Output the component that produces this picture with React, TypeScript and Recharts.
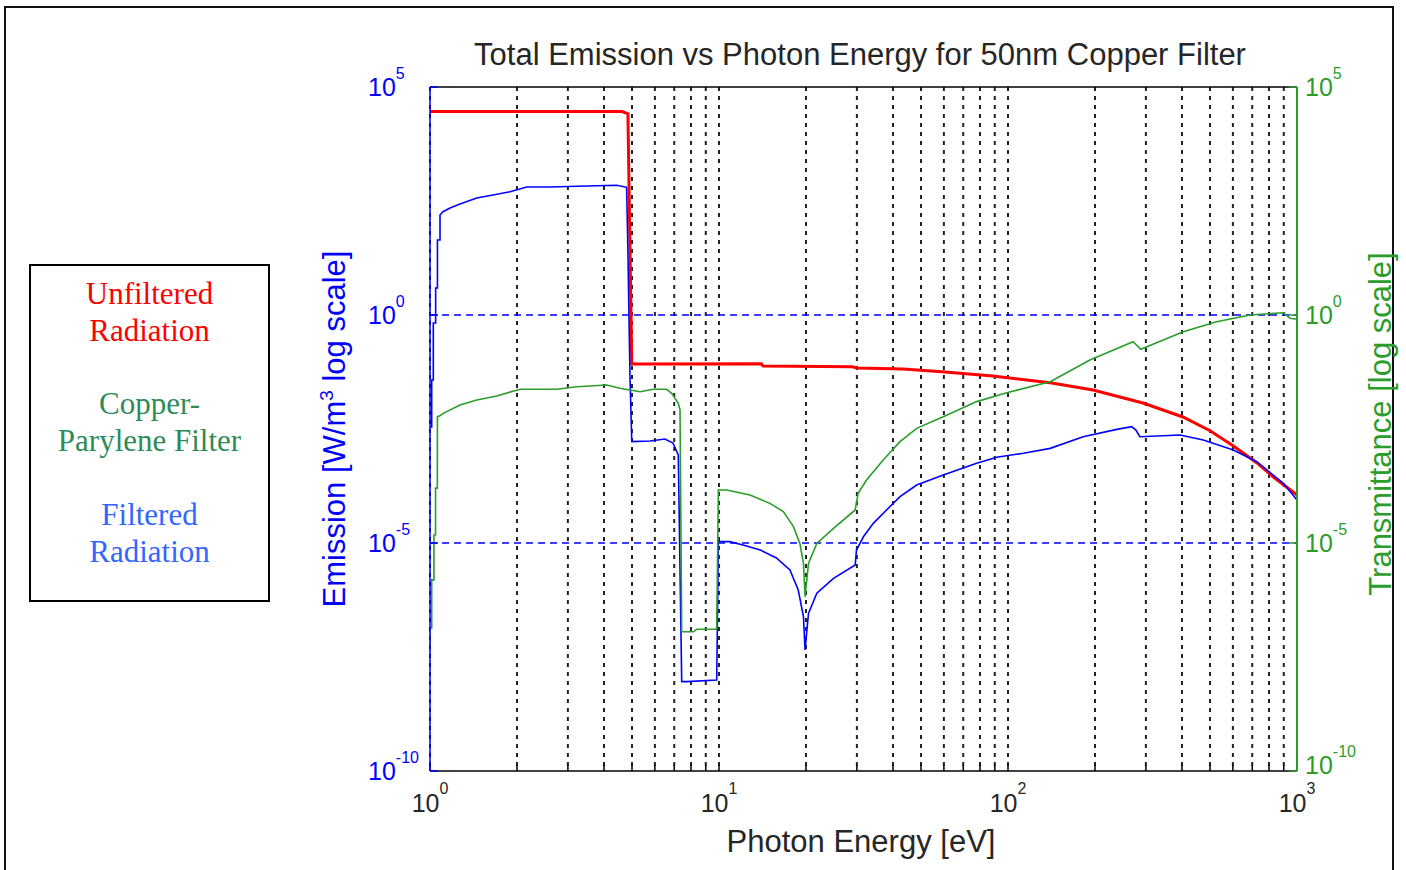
import React from 'react';
import { LineChart, Line, XAxis, YAxis, CartesianGrid, ReferenceLine, Legend } from 'recharts';

// ---------- axis ticks ----------
const xTicks = [1, 2, 3, 4, 5, 6, 7, 8, 9, 10, 20, 30, 40, 50, 60, 70, 80, 90, 100, 200, 300, 400, 500, 600, 700, 800, 900, 1000];
const yTicks = [1e-10, 1e-5, 1, 1e5];
const yGridValues = [1e-5, 1];

// ---------- Unfiltered radiation (red, left axis) ----------
const unfilteredEnergy = [1, 4.62, 4.84, 4.99, 14.0, 14.2, 28.9, 30, 43.3, 59.1, 88.7, 116, 140, 197, 293, 403, 500, 601, 727, 826, 1000];
const unfilteredEmission = [2.9e4, 2.9e4, 2.6e4, 0.084, 0.085, 0.076, 0.073, 0.069, 0.0655, 0.0571, 0.046, 0.0376, 0.0328, 0.0227, 0.01175, 0.0058, 0.0029, 0.00136, 5.7e-4, 2.84e-4, 1.13e-4];

// ---------- Filtered radiation (blue, left axis) ----------
const filteredEnergy = [1.0, 1.0136, 1.0136, 1.0266, 1.0266, 1.046, 1.046, 1.061, 1.061, 1.083, 1.083, 1.109, 1.173, 1.27, 1.451, 1.652, 1.891, 2.161, 2.6, 3.487, 4.426, 4.79, 4.84, 4.92, 4.99, 5.77, 6.5, 6.93, 7.23, 7.33, 7.43, 7.73, 9.82, 9.95, 10.9, 12.1, 13.9, 15.8, 17.6, 18.8, 19.6, 19.85, 20.4, 21.8, 24.9, 29.6, 29.9, 31.6, 34.2, 38.0, 42.3, 48.3, 59.7, 77.9, 91.4, 113, 140, 182, 238, 268, 277, 286, 394, 474, 602, 726, 897, 1000];
const filteredEmission = [3.5e-3, 3.5e-3, 0.0376, 0.0376, 0.668, 0.668, 3.91, 3.91, 44.2, 44.2, 156, 184, 222, 272, 368, 428, 506, 641, 641, 675, 698, 631, 24.4, 0.0444, 1.67e-3, 1.73e-3, 1.91e-3, 1.56e-3, 8.5e-4, 2.6e-6, 9.1e-9, 9.1e-9, 9.9e-9, 1.07e-5, 1.07e-5, 9.0e-6, 7.0e-6, 4.69e-6, 2.56e-6, 9.3e-7, 2.42e-7, 4.5e-8, 2.87e-7, 7.9e-7, 1.68e-6, 3.3e-6, 7.0e-6, 1.37e-5, 2.7e-5, 5.3e-5, 1.04e-4, 1.87e-4, 3.1e-4, 5.6e-4, 7.6e-4, 9.3e-4, 1.19e-3, 2.14e-3, 3.1e-3, 3.56e-3, 3.0e-3, 2.14e-3, 2.33e-3, 1.82e-3, 1.09e-3, 6.07e-4, 2.04e-4, 8.8e-5];

// ---------- Copper-Parylene filter transmittance (green, right axis) ----------
const transEnergy = [1.0, 1.0, 1.0136, 1.0136, 1.032, 1.032, 1.045, 1.045, 1.06, 1.061, 1.083, 1.111, 1.27, 1.451, 1.7, 2.05, 2.74, 3.22, 4.09, 4.54, 5.33, 5.93, 6.59, 6.86, 7.23, 7.33, 7.43, 8.15, 8.37, 9.82, 9.95, 10.63, 12.8, 15.0, 16.7, 18.1, 19.05, 19.6, 19.85, 20.4, 21.8, 24.9, 29.6, 30.3, 32.4, 37.0, 42.3, 48.3, 59.7, 77.9, 99.0, 140, 192, 271, 288, 404, 527, 688, 897, 946, 1000];
const transmittance = [4.1e-8, 1.37e-7, 1.37e-7, 1.55e-6, 1.55e-6, 1.5e-5, 1.5e-5, 1.6e-4, 1.6e-4, 5.9e-3, 6.2e-3, 6.98e-3, 0.0106, 0.0137, 0.0168, 0.0235, 0.0235, 0.0268, 0.0292, 0.0247, 0.0208, 0.0235, 0.0235, 0.0192, 0.0116, 8.3e-3, 1.13e-7, 1.13e-7, 1.28e-7, 1.28e-7, 1.45e-4, 1.45e-4, 1.13e-4, 7.4e-5, 4.9e-5, 2.28e-5, 9.8e-6, 3.58e-6, 6.6e-7, 3.58e-6, 9.8e-6, 2.1e-5, 5.3e-5, 1.23e-4, 2.41e-4, 6.6e-4, 1.67e-3, 3.27e-3, 5.9e-3, 0.0126, 0.0198, 0.0344, 0.103, 0.259, 0.177, 0.43, 0.713, 1.0, 1.12, 0.85, 0.805];

// ---------- legend text ----------
const legendGroups = [
  { lines: ['Unfiltered', 'Radiation'], color: '#ff0000' },
  { lines: ['Copper-', 'Parylene Filter'], color: '#2e8b57' },
  { lines: ['Filtered', 'Radiation'], color: '#3366ff' },
];

const SANS = '"Liberation Sans", Arial, Helvetica, sans-serif';
const SERIF = '"Liberation Serif", "Times New Roman", Times, serif';
const BLUE = '#0000ff';
const GREEN = '#2a9d2a';
const RED = '#ff0000';
const TEXT = '#262626';

const zip = (es: number[], vs: number[]) => es.map((e, i) => ({ e, v: vs[i] }));
const unfilteredData = zip(unfilteredEnergy, unfilteredEmission);
const filteredData = zip(filteredEnergy, filteredEmission);
const transData = zip(transEnergy, transmittance);

const powerOf = (v: number) => Math.round(Math.log10(v));
const isPower = (v: number) => Math.abs(Math.pow(10, powerOf(v)) - v) < 1e-6 * v;

const XTick = (props: any) => {
  const { x, y, payload } = props;
  const v = payload.value;
  if (!isPower(v)) return <g />;
  return (
    <text x={x} y={y + 47} textAnchor="middle" fontFamily={SANS} fontSize={25} fill={TEXT}>
      10<tspan dy={-18} fontSize={16}>{powerOf(v)}</tspan>
    </text>
  );
};

const LeftTick = (props: any) => {
  const { x, y, payload } = props;
  return (
    <text x={x - 70} y={y + 8.5} textAnchor="start" fontFamily={SANS} fontSize={25} fill={BLUE}>
      10<tspan dy={-17} fontSize={16}>{powerOf(payload.value)}</tspan>
    </text>
  );
};

const RightTick = (props: any) => {
  const { x, y, payload } = props;
  const p = powerOf(payload.value);
  // the bottom label sits slightly higher, clear of the 10^3 x-tick label
  const lift = p === powerOf(yTicks[0]) ? 6 : 0;
  return (
    <text x={x + 16} y={y + 8.5 - lift} textAnchor="start" fontFamily={SANS} fontSize={25} fill={GREEN}>
      10<tspan dy={-17} fontSize={16}>{p}</tspan>
    </text>
  );
};

const TitleLabel = () => (
  <text x={860} y={65} textAnchor="middle" fontFamily={SANS} fontSize={31} fill={TEXT}>
    Total Emission vs Photon Energy for 50nm Copper Filter
  </text>
);

const XLabel = () => (
  <text x={861} y={852} textAnchor="middle" fontFamily={SANS} fontSize={31} fill={TEXT}>
    Photon Energy [eV]
  </text>
);

const LeftLabel = () => (
  <text x={345} y={429} transform="rotate(-90 345 429)" textAnchor="middle" fontFamily={SANS} fontSize={31} fill={BLUE}>
    Emission [W/m<tspan dy={-12} fontSize={19}>3</tspan><tspan dy={12}> log scale]</tspan>
  </text>
);

const RightLabel = () => (
  <text x={1391} y={424} transform="rotate(-90 1391 424)" textAnchor="middle" fontFamily={SANS} fontSize={31} fill={GREEN}>
    Transmittance [log scale]
  </text>
);

const LegendBox = () => (
  <div
    style={{
      width: 241,
      height: 338,
      border: '2px solid #000',
      boxSizing: 'border-box',
      paddingTop: 10,
      background: '#fff',
      fontFamily: SERIF,
      fontSize: 31,
      lineHeight: '36.8px',
      textAlign: 'center',
    }}
  >
    {legendGroups.map((g, gi) => (
      <div key={gi} style={{ color: g.color, marginBottom: gi < legendGroups.length - 1 ? 36.8 : 0 }}>
        {g.lines.map((l, li) => (
          <div key={li} style={{ whiteSpace: 'nowrap' }}>{l}</div>
        ))}
      </div>
    ))}
  </div>
);

export default function App() {
  return (
    <div style={{ position: 'absolute', left: 0, top: 0, width: 1406, height: 870, overflow: 'hidden', background: '#fff' }}>
      <div style={{ position: 'absolute', left: 4, top: 6, width: 1390, height: 900, border: '2px solid #111', boxSizing: 'border-box' }} />
      <div style={{ position: 'absolute', left: 0, top: 0 }}>
        <LineChart width={1406} height={870} margin={{ top: 86, right: 0, bottom: 0, left: 0 }}>
          <CartesianGrid horizontal={false} stroke="#222" strokeWidth={2} strokeDasharray="4 5" yAxisId="left" />
          {yGridValues.map((v) => (
            <ReferenceLine key={v} y={v} yAxisId="left" stroke={BLUE} strokeWidth={1.5} strokeDasharray="7 5" />
          ))}
          <XAxis
            type="number"
            dataKey="e"
            scale="log"
            domain={[1, 1000]}
            allowDataOverflow
            ticks={xTicks}
            interval={0}
            height={99}
            tickSize={-6}
            tickMargin={0}
            tick={<XTick />}
            axisLine={{ stroke: '#000', strokeWidth: 1.5 }}
            tickLine={{ stroke: '#000', strokeWidth: 1.5 }}
            label={{ content: <XLabel /> }}
          />
          <XAxis
            xAxisId="top"
            orientation="top"
            type="number"
            dataKey="e"
            scale="log"
            domain={[1, 1000]}
            allowDataOverflow
            ticks={xTicks}
            interval={0}
            height={1}
            tickSize={-6}
            tick={false}
            axisLine={{ stroke: '#000', strokeWidth: 1.5 }}
            tickLine={{ stroke: '#000', strokeWidth: 1.5 }}
            label={{ content: <TitleLabel /> }}
          />
          <YAxis
            yAxisId="left"
            orientation="left"
            type="number"
            scale="log"
            domain={[1e-10, 1e5]}
            allowDataOverflow
            ticks={yTicks}
            interval={0}
            width={430}
            tickSize={-8}
            tickMargin={0}
            tick={<LeftTick />}
            axisLine={{ stroke: BLUE, strokeWidth: 1.5 }}
            tickLine={{ stroke: BLUE, strokeWidth: 1.5 }}
            label={{ content: <LeftLabel /> }}
          />
          <YAxis
            yAxisId="right"
            orientation="right"
            type="number"
            scale="log"
            domain={[1e-10, 1e5]}
            allowDataOverflow
            ticks={yTicks}
            interval={0}
            width={109}
            tickSize={-8}
            tickMargin={0}
            tick={<RightTick />}
            axisLine={{ stroke: GREEN, strokeWidth: 2 }}
            tickLine={{ stroke: GREEN, strokeWidth: 1.5 }}
            label={{ content: <RightLabel /> }}
          />
          <Legend
            layout="horizontal"
            verticalAlign="middle"
            align="center"
            content={<LegendBox />}
            wrapperStyle={{ left: 29, top: 264, width: 241, height: 338, margin: 0, padding: 0 }}
          />
          <Line data={unfilteredData} dataKey="v" name="Unfiltered Radiation" yAxisId="left" type="linear" stroke={RED} strokeWidth={3} dot={false} activeDot={false} isAnimationActive={false} />
          <Line data={filteredData} dataKey="v" name="Filtered Radiation" yAxisId="left" type="linear" stroke={BLUE} strokeWidth={1.6} dot={false} activeDot={false} isAnimationActive={false} />
          <Line data={transData} dataKey="v" name="Copper-Parylene Filter" yAxisId="right" type="linear" stroke={GREEN} strokeWidth={1.6} dot={false} activeDot={false} isAnimationActive={false} />
        </LineChart>
      </div>
    </div>
  );
}
